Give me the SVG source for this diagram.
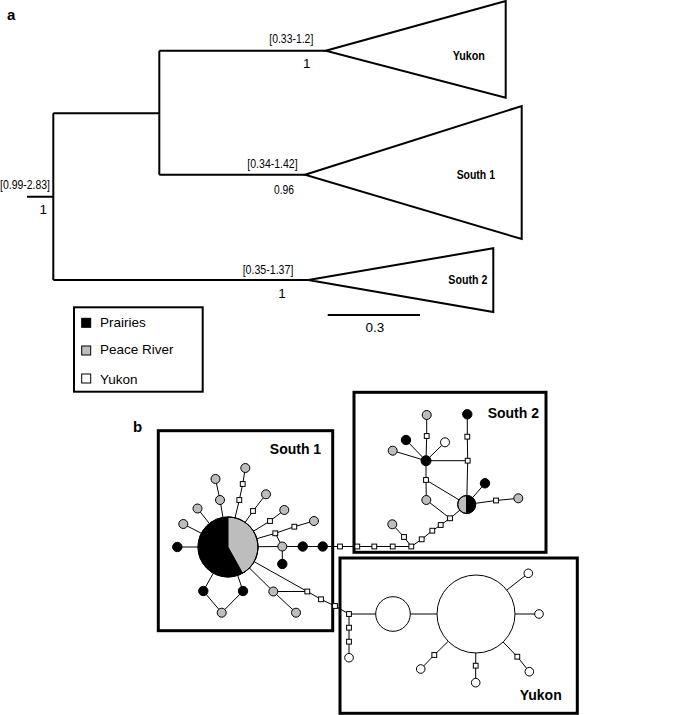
<svg xmlns="http://www.w3.org/2000/svg" width="685" height="715" viewBox="0 0 685 715">
<style>
text{font-family:"Liberation Sans",Arial,sans-serif;fill:#000}
.t{font-size:13.5px}
.tb{font-size:13.5px;font-weight:bold}
.nb{font-size:14px;font-weight:bold}
.lbl{font-size:15px;font-weight:bold}
.tree{fill:none;stroke:#000;stroke-width:2;stroke-linejoin:miter}
.box{fill:none;stroke:#000;stroke-width:3}
.lbox{fill:none;stroke:#000;stroke-width:2}
.e{stroke:#000;stroke-width:1;fill:none}
.g{fill:#bdbdbd;stroke:#000;stroke-width:1}
.k{fill:#000;stroke:#000;stroke-width:1}
.w{fill:#fff;stroke:#000;stroke-width:1}
.sq{fill:#fff;stroke:#000;stroke-width:1}
</style>
<defs>
<rect id="s" x="-2.4" y="-2.4" width="4.8" height="4.8" class="sq"/>
</defs>

<!-- Panel a: tree -->
<text class="lbl" x="7" y="20">a</text>
<g id="tree-branches">
<path class="tree" d="M27,196.7 H53.3 M53.3,113.3 V280 M53.3,113.3 H159.3 M159.3,50.7 V174.7 M159.3,50.7 H325.7 M159.3,174.7 H305 M53.3,280 H308.3"/>
</g>
<g id="clade-yukon">
<polygon class="tree" points="325.7,50.7 505.7,1 505.7,97.7"/>
<text class="tb" x="468.8" y="60" text-anchor="middle" textLength="32.3" lengthAdjust="spacingAndGlyphs">Yukon</text>
</g>
<g id="clade-south1">
<polygon class="tree" points="305,174.7 521.7,106 521.7,239"/>
<text class="tb" x="475.8" y="179" text-anchor="middle" textLength="38.3" lengthAdjust="spacingAndGlyphs">South 1</text>
</g>
<g id="clade-south2">
<polygon class="tree" points="308.3,280 493.3,248.3 493.3,312"/>
<text class="tb" x="467.8" y="284" text-anchor="middle" textLength="39" lengthAdjust="spacingAndGlyphs">South 2</text>
</g>
<g id="tree-labels">
<text class="t" x="291.3" y="43" text-anchor="middle" textLength="44" lengthAdjust="spacingAndGlyphs">[0.33-1.2]</text>
<text class="t" x="306.7" y="68" text-anchor="middle">1</text>
<text class="t" x="272.5" y="167.5" text-anchor="middle" textLength="50.3" lengthAdjust="spacingAndGlyphs">[0.34-1.42]</text>
<text class="t" x="284" y="194.3" text-anchor="middle" textLength="20" lengthAdjust="spacingAndGlyphs">0.96</text>
<text class="t" x="25" y="188.5" text-anchor="middle" textLength="50" lengthAdjust="spacingAndGlyphs">[0.99-2.83]</text>
<text class="t" x="43.3" y="214" text-anchor="middle">1</text>
<text class="t" x="268" y="274" text-anchor="middle" textLength="50.7" lengthAdjust="spacingAndGlyphs">[0.35-1.37]</text>
<text class="t" x="282" y="298" text-anchor="middle">1</text>
</g>
<g id="scale-bar">
<line class="tree" x1="327.7" y1="315" x2="420" y2="315"/>
<text class="t" x="375" y="331.7" text-anchor="middle">0.3</text>
</g>
<g id="legend">
<rect class="lbox" x="74" y="307.3" width="128.7" height="84.4"/>
<rect x="81.7" y="318.3" width="9" height="9" class="k"/>
<text class="t" x="100" y="326.7">Prairies</text>
<rect x="81.7" y="346" width="9" height="9" class="g"/>
<text class="t" x="100" y="354.3">Peace River</text>
<rect x="81.7" y="374" width="9" height="9" class="w"/>
<text class="t" x="100" y="384">Yukon</text>
</g>

<!-- Panel b: network -->
<text class="lbl" x="133" y="432">b</text>
<g id="box-south1"><rect class="box" x="158.3" y="430.7" width="174.4" height="200"/><text class="nb" x="295.5" y="454" text-anchor="middle">South 1</text></g>
<g id="box-south2"><rect class="box" x="354" y="392.3" width="192" height="160"/><text class="nb" x="513.3" y="418.3" text-anchor="middle">South 2</text></g>
<g id="box-yukon"><rect class="box" x="340" y="558" width="237.3" height="155.3"/><text class="nb" x="540.7" y="700" text-anchor="middle">Yukon</text></g>

<g id="connectors">
<path class="e" d="
M228,547 L177.3,547 M228,547 L183.3,524 M228,547 L197.5,508.5
M228,547 L220,500 L215.5,479
M228,547 L239.3,500 L242.7,484 L245.3,468
M228,547 L253,511 L266,494.3
M228,547 L270,521 L284.3,510
M228,547 L275.3,533.3 L294.3,526.7 L314,521
M275.3,533.3 L282.3,546.5
M228,547 L282.3,546.5 L340,546.5
M282.3,546.5 L282.3,564
M228,547 L203.3,591 L221.7,612.7 L243,591 L228,547
M228,547 L273.3,591.5 L296,612.7
M273.3,591.5 L307.3,591.5
M228,547 L307.3,591.5 L321,599.3 L335,606 L349,614
M340,546.5 L411.3,546.5
M426.7,415 L426.7,436 L426,460.7
M426,460.7 L406,440 M426,460.7 L392.7,450.7 M426,460.7 L445,442.3
M426,460.7 L467.7,460.7
M467.3,414.3 L467.3,436.7 L467.7,460.7 L466.7,504.5
M466.7,504.5 L485,483.3
M466.7,504.5 L496,500.5 L518.3,498.3
M426,460.7 L426,480 L426.3,500 L450,518.3 L466.7,504.5
M426,480 L466.7,504.5
M450,518.3 L440.7,525 L432.3,530.7 L421.7,539.3 L411.3,546.5
M392.3,524.3 L404,537 L411.3,546.5
M349,614 L476,614
M349,614 L349,627.7 L349,641.7 L349,657.7
M476,614 L528.3,573.3 M476,614 L539,614
M476,614 L517.3,656.7 L529.3,671.7
M476,614 L475.7,665.7 L475.7,682.7
M476,614 L434.3,655 L420.7,669
"/>
</g>

<g id="south1-nodes">
<g id="pie-s1"><circle cx="228" cy="547" r="30" class="k"/><path class="g" d="M228,547 L228,517 A30,30 0 0 1 242.5,573.2 Z"/><circle cx="228" cy="547" r="30" fill="none" stroke="#000"/></g>
<g id="s1-k1"><circle cx="177.3" cy="547" r="4.7" class="k"/></g>
<g id="s1-g1"><circle cx="183.3" cy="524" r="4.5" class="g"/></g>
<g id="s1-g2"><circle cx="197.5" cy="508.5" r="4.5" class="g"/></g>
<g id="s1-g3"><circle cx="220" cy="500" r="4.5" class="g"/></g>
<g id="s1-g4"><circle cx="215.5" cy="479" r="4.5" class="g"/></g>
<g id="s1-sq1"><use href="#s" x="239.3" y="500"/></g>
<g id="s1-sq2"><use href="#s" x="242.7" y="484"/></g>
<g id="s1-g5"><circle cx="245.3" cy="468" r="4.5" class="g"/></g>
<g id="s1-sq3"><use href="#s" x="253" y="511"/></g>
<g id="s1-g6"><circle cx="266" cy="494.3" r="4.5" class="g"/></g>
<g id="s1-sq4"><use href="#s" x="270" y="521"/></g>
<g id="s1-g7"><circle cx="284.3" cy="510" r="4.5" class="g"/></g>
<g id="s1-sq5"><use href="#s" x="275.3" y="533.3"/></g>
<g id="s1-sq6"><use href="#s" x="294.3" y="526.7"/></g>
<g id="s1-g8"><circle cx="314" cy="521" r="4.5" class="g"/></g>
<g id="s1-g9"><circle cx="282.3" cy="546.5" r="4.5" class="g"/></g>
<g id="s1-k2"><circle cx="302.7" cy="546.5" r="4.7" class="k"/></g>
<g id="s1-k3"><circle cx="322.7" cy="546.5" r="4.7" class="k"/></g>
<g id="s1-k4"><circle cx="282.3" cy="564" r="4.7" class="k"/></g>
<g id="s1-k5"><circle cx="203.3" cy="591" r="4.7" class="k"/></g>
<g id="s1-k6"><circle cx="243" cy="591" r="4.7" class="k"/></g>
<g id="s1-g10"><circle cx="221.7" cy="612.7" r="4.5" class="g"/></g>
<g id="s1-g11"><circle cx="273.3" cy="591.5" r="4.5" class="g"/></g>
<g id="s1-g12"><circle cx="296" cy="612.7" r="4.5" class="g"/></g>
<g id="s1-sq7"><use href="#s" x="307.3" y="591.5"/></g>
<g id="s1-sq8"><use href="#s" x="321" y="599.3"/></g>
<g id="s1-sq9"><use href="#s" x="335" y="606"/></g>
<g id="bridge-sq11"><use href="#s" x="340" y="546.5"/></g>
</g>

<g id="south2-nodes">
<g id="s2-g13"><circle cx="426.7" cy="415" r="4.5" class="g"/></g>
<g id="s2-sq12"><use href="#s" x="426.7" y="436"/></g>
<g id="s2-kJ"><circle cx="426" cy="460.7" r="5" class="k"/></g>
<g id="s2-k7"><circle cx="406" cy="440" r="4.7" class="k"/></g>
<g id="s2-g14"><circle cx="392.7" cy="450.7" r="4.5" class="g"/></g>
<g id="s2-w1"><circle cx="445" cy="442.3" r="4.5" class="w"/></g>
<g id="s2-k8"><circle cx="467.3" cy="414.3" r="4.7" class="k"/></g>
<g id="s2-sq13"><use href="#s" x="467.3" y="436.7"/></g>
<g id="s2-sq14"><use href="#s" x="467.7" y="460.7"/></g>
<g id="pie-s2"><path class="g" d="M466.7,495.5 A9,9 0 0 0 466.7,513.5 Z"/><path class="k" d="M466.7,495.5 A9,9 0 0 1 466.7,513.5 Z"/><circle cx="466.7" cy="504.5" r="9" fill="none" stroke="#000"/></g>
<g id="s2-k9"><circle cx="485" cy="483.3" r="4.7" class="k"/></g>
<g id="s2-sq15"><use href="#s" x="496" y="500.5"/></g>
<g id="s2-g15"><circle cx="518.3" cy="498.3" r="4.5" class="g"/></g>
<g id="s2-sq16"><use href="#s" x="426" y="480"/></g>
<g id="s2-g16"><circle cx="426.3" cy="500" r="4.5" class="g"/></g>
<g id="s2-sq17"><use href="#s" x="450" y="518.3"/></g>
<g id="s2-sq18"><use href="#s" x="440.7" y="525"/></g>
<g id="s2-sq19"><use href="#s" x="432.3" y="530.7"/></g>
<g id="s2-sq20"><use href="#s" x="421.7" y="539.3"/></g>
<g id="s2-sq21"><use href="#s" x="411.3" y="546.5"/></g>
<g id="s2-g17"><circle cx="392.3" cy="524.3" r="4.5" class="g"/></g>
<g id="s2-sq22"><use href="#s" x="404" y="537"/></g>
<g id="s2-sq23"><use href="#s" x="392.7" y="546.5"/></g>
<g id="s2-sq24"><use href="#s" x="374.3" y="546.5"/></g>
<g id="s2-sq25"><use href="#s" x="357.3" y="546.5"/></g>
</g>

<g id="yukon-nodes">
<g id="y-sq10"><use href="#s" x="349" y="614"/></g>
<g id="y-sq26"><use href="#s" x="349" y="627.7"/></g>
<g id="y-sq27"><use href="#s" x="349" y="641.7"/></g>
<g id="y-w2"><circle cx="349" cy="657.7" r="4.3" class="w"/></g>
<g id="y-mid"><circle cx="393" cy="614" r="17.3" class="w"/></g>
<g id="y-big"><circle cx="476" cy="614" r="39" class="w"/></g>
<g id="y-w3"><circle cx="528.3" cy="573.3" r="4.3" class="w"/></g>
<g id="y-w4"><circle cx="539" cy="614" r="4.3" class="w"/></g>
<g id="y-sq28"><use href="#s" x="517.3" y="656.7"/></g>
<g id="y-w5"><circle cx="529.3" cy="671.7" r="4.3" class="w"/></g>
<g id="y-sq29"><use href="#s" x="475.7" y="665.7"/></g>
<g id="y-w6"><circle cx="475.7" cy="682.7" r="4.3" class="w"/></g>
<g id="y-sq30"><use href="#s" x="434.3" y="655"/></g>
<g id="y-w7"><circle cx="420.7" cy="669" r="4.3" class="w"/></g>
</g>
</svg>
